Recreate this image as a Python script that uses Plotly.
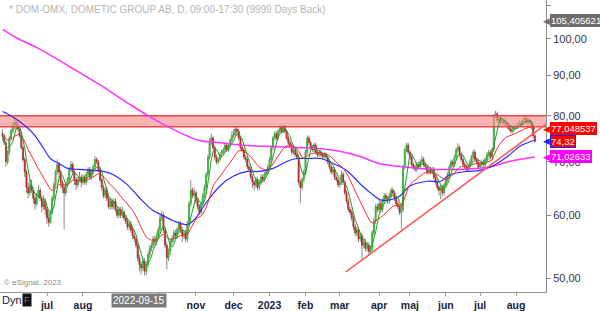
import numpy as np
import pandas as pd
import plotly.graph_objects as go

# ---------------- data ----------------
holidays = ["2022-05-26", "2022-06-06", "2022-06-24", "2022-12-26", "2023-01-06",
            "2023-04-07", "2023-04-10", "2023-05-01", "2023-05-18", "2023-06-06", "2023-06-23"]
bdays = pd.bdate_range("2022-05-23", "2023-08-16")
dates = [d.strftime("%Y-%m-%d") for d in bdays if d.strftime("%Y-%m-%d") not in holidays]

closes = [
    75.5, 74, 70, 72, 75, 76.5,
    77.5, 78.5, 78, 77, 75.5, 73, 70.5, 68, 65, 64, 65.5, 64.5, 63, 62, 63.5, 64.5, 63, 61.5, 62.5, 61,
    59.5, 58.8, 60.5, 63, 65.5, 68, 69.5, 68, 66, 65, 64, 65.5, 66.5, 68.5, 69.5, 68, 66.5, 65.5, 66.5, 67, 66,
    67, 66, 67.5, 68.5, 67, 68, 69, 70.5, 70, 68.5, 66.5, 65, 63.5, 64.5, 63, 61.5, 62.5, 61.5, 62.5, 61, 60, 61, 60,
    60.5, 59.5, 59, 58, 58.5, 57.5, 56.5, 56, 55, 53, 52, 51.5, 52.5, 51, 52, 53.5, 54.5, 55, 56, 55.5, 56.5, 57.5,
    59.5, 60, 57.5, 55, 53, 54, 55.5, 56, 57, 56.5, 57.5, 58.5, 57.5, 56.5, 57, 56, 58.5, 62, 64.5, 63.5, 64,
    62.5, 61.5, 60.5, 62, 63.5, 65, 67.5, 71, 74, 75, 73, 71, 70, 70.5, 71.5, 72, 72.5, 73.5, 72.5, 73.5, 74.5, 75.5,
    76, 77, 76.5, 75, 73, 72.5, 71, 70.5, 69, 68.5, 67, 66, 65.5, 66.5, 65, 66, 67, 66.5, 67.5, 68, 69,
    70.5, 73, 75, 76, 75, 76.5, 77.5, 76.5, 77.5, 76.5, 75, 74, 73.5, 72, 72.5, 71.5, 71, 66, 65, 66.5, 68,
    72, 75, 74, 73, 72.5, 73.5, 72, 71.5, 72, 71.5, 71, 71.5, 71, 70, 69, 68, 68.5, 67, 66.5, 65.5,
    66, 67.5, 66, 64, 62.5, 61, 60.5, 59.5, 58, 57, 57.5, 56, 56.5, 55, 55.5, 54.5, 55, 54, 54.5, 57, 59, 61.5, 61,
    62, 61, 62.5, 63.5, 63, 62.5, 63.5, 64.5, 64, 63, 62, 61.5, 60.5, 61, 69, 72.5, 73.5, 72,
    71, 69.5, 69, 68.5, 69.5, 69, 70, 70.5, 69.5, 69, 68, 68.5, 68, 68.5, 67, 66, 65, 64.5, 65, 64, 65.5,
    66.5, 67.5, 69, 70, 69.5, 71, 72.5, 73, 71.5, 70.5, 69.5, 69, 68.5, 69, 70, 71, 72, 70.5, 70, 69,
    69.5, 70, 69.5, 70.5, 71.5, 72, 71, 72.5, 80, 80.5, 79, 79.5, 78.5, 79, 78.5, 78, 77.5, 77, 76.5, 77, 77.5,
    77.5, 78, 78.5, 78, 79, 79.5, 78.5, 79, 78.5, 77.5, 75.5, 74.32,
]
highs = [
    77, 76, 74.5, 72.5, 75.5, 77,
    78.5, 79.5, 79, 78.5, 77.5, 76, 73.5, 71, 68.5, 66, 66.5, 66.5, 65, 63.5, 64, 65.5, 65, 63.5, 63.5, 63,
    61.5, 60.5, 61, 63.5, 66, 68.5, 70.5, 70, 68.5, 66.5, 65.5, 66, 67, 69, 70.2, 70, 68.5, 67, 67, 68, 67.5,
    67.5, 67.5, 68, 69, 69, 68.5, 69.5, 71.2, 71, 70.5, 69, 67, 65.5, 65, 65, 63.5, 63, 63, 63, 63, 61.5, 61.5, 61.5,
    61.5, 61, 60, 59.5, 59, 59, 58, 57, 56.5, 55.5, 53.5, 52.5, 53, 53, 52.5, 54, 55, 55.5, 56.5, 56.5, 57, 58,
    60, 60.8, 60.5, 58, 55.5, 54.5, 56, 56.5, 57.5, 57.5, 58, 59, 59, 58, 57.5, 57.5, 59, 62.5, 66.4, 65, 65,
    64.5, 63, 62, 62.5, 64, 65.5, 68, 71.5, 75, 76, 75.5, 73.5, 71.5, 71, 72, 72.5, 73, 74, 74, 74, 75, 76.5,
    77, 77.5, 77.5, 77, 75.5, 73.5, 73, 71.5, 71, 69.5, 69, 67.5, 66.5, 67, 67, 66.5, 67.5, 67.5, 68, 68.5, 69.5,
    71, 73.5, 75.5, 76.5, 76.5, 77, 78, 78, 78, 78, 77, 75.5, 74.5, 74, 73, 73, 72, 71.5, 66.5, 67, 68.5,
    72.5, 75.6, 75.5, 74.5, 73.5, 74, 74, 72.5, 72.5, 72.5, 72, 72, 72, 71.5, 70.5, 69.5, 69, 69, 67.5, 67,
    66.5, 68.2, 68, 66.5, 64.5, 63, 61.5, 61, 60, 58.5, 58, 58, 57, 57, 56, 56, 55.5, 55.5, 55, 57.5, 59.5, 62, 62,
    62.8, 62.5, 63, 64, 64, 63.5, 64, 65, 65, 64.5, 63.5, 62.5, 62, 61.5, 69.5, 73, 74, 74,
    72.5, 71.5, 70, 69.5, 70, 70, 70.5, 71.3, 71, 70, 69.5, 69, 69, 69, 69, 67.5, 66.5, 65.5, 65.5, 65.5, 66,
    67, 68, 69.5, 70.5, 70.5, 71.5, 73, 73.9, 73.5, 72, 71, 70, 69.5, 69.5, 70.5, 71.5, 72.5, 72.5, 71, 70.5,
    70, 70.5, 70.5, 71, 72, 72.5, 72.5, 73, 80.5, 81.2, 81, 80, 80, 79.5, 79.5, 79, 78.5, 78, 77.5, 77.5, 78,
    78, 78.5, 79, 79, 79.5, 80, 80, 79.5, 79.5, 79, 78, 76,
]
lows = [
    74.5, 73.5, 69, 69.5, 71.5, 74.5,
    76, 77, 77, 76.5, 75, 72.5, 70, 67, 64, 63, 63.5, 64, 62, 61, 61.5, 63, 62.5, 60.5, 61, 60,
    58.5, 58, 58.5, 60, 62.5, 65, 67.5, 67, 65, 64, 57.6, 63.5, 65, 66, 68, 67.5, 65.5, 64.5, 65, 66, 65,
    65.5, 65.5, 65.5, 67, 66.5, 66.5, 67.5, 68.5, 69.5, 68, 66, 64.5, 63, 63, 62.5, 61, 61, 61, 61, 60.5, 59.5, 59.5, 59.5,
    59.5, 59, 58.5, 57.5, 57.5, 57, 56, 55.5, 54.5, 52.5, 51, 50.5, 51, 50.4, 50.5, 51.5, 53, 54, 54.5, 55, 55, 56,
    57, 59, 57, 54.5, 51.3, 52.5, 53.5, 55, 55.5, 56, 56, 57, 57, 55.5, 56, 55.5, 55.5, 58, 61.5, 63, 63,
    62, 61, 60, 60, 61.5, 63, 64.5, 67, 70.5, 73.5, 72.5, 70.5, 69.5, 69.5, 70, 71, 71.5, 72, 72, 72, 73, 74,
    75, 75.5, 75.5, 74.5, 72.5, 72, 70.5, 70, 68.5, 68, 66.5, 65, 64.5, 65, 64.5, 64.5, 65.5, 66, 66, 67, 67.5,
    68.5, 70, 72.5, 74.5, 74.5, 74.5, 76, 76, 76, 76, 74.5, 73.5, 73, 71.5, 71.5, 71, 70.5, 65.5, 62.2, 64.5, 66,
    67.5, 71.5, 73.5, 72.5, 72, 72, 71.5, 71, 71, 71, 70.5, 70.5, 70.5, 69.5, 68.5, 67.5, 67.5, 66.5, 66, 65,
    65, 65.5, 65.5, 63.5, 62, 60.5, 60, 59, 57.5, 56.5, 56.5, 55.5, 55.5, 52.8, 54.5, 54, 54, 53.5, 53.5, 54, 56.5, 58.5, 60.5,
    60.5, 60.5, 60.5, 62, 62.5, 62, 62, 63, 63.5, 62.5, 61.5, 61, 60, 57.6, 60.5, 68.5, 72, 71.5,
    70.5, 69, 68.5, 68, 68, 68.5, 68.5, 69.5, 69, 68.5, 67.5, 67.5, 67.5, 67.5, 66.5, 65.5, 64.5, 63.5, 62.8, 63.5, 63.5,
    65, 66, 67, 68.5, 69, 69, 70.5, 72, 71, 70, 69, 68.5, 68, 68, 68.5, 69.5, 70.5, 70, 69.5, 68.5,
    68.5, 69, 69, 69, 70, 71, 70.5, 70.5, 72, 79.5, 78.5, 78.5, 78, 78, 78, 77.5, 77, 76.5, 76, 76, 76.5,
    77, 77, 77.5, 77.5, 77.5, 78.5, 78, 78, 78, 77, 75, 74,
]
first_open = 76.0

# moving averages that need history before the window
blue_idx = [0, 4, 10, 18, 24, 28, 34, 38, 45, 53, 59, 65, 73, 80, 88, 94, 100, 108, 112, 119, 127, 135,
            143, 150, 158, 166, 172, 178, 186, 193, 201, 209, 215, 221, 226, 232, 238, 248, 256, 261, 271,
            279, 287, 295, 302, 311]
blue_val = [81.0, 80.2, 78.7, 76.0, 72.8, 70.7, 69.5, 68.7, 68.5, 68.3, 68.1, 67.4, 65.5, 63.1, 60.8, 59.9,
            59.0, 58.4, 59.2, 62.2, 65.3, 67.2, 68.1, 68.1, 68.7, 70.1, 70.7, 70.7, 70.7, 69.7, 68.3, 65.7,
            64.0, 62.7, 62.7, 63.4, 65.3, 66.2, 66.2, 67.4, 68.1, 68.3, 69.3, 71.1, 73.2, 74.6]
mag_idx = [0, 9, 22, 39, 57, 74, 90, 109, 115, 127, 143, 158, 172, 185, 197, 209, 220, 232, 244, 255, 267,
           277, 286, 296, 311]
mag_val = [102.8, 100.1, 97.0, 92.3, 87.5, 82.8, 78.9, 75.3, 74.5, 74.0, 73.4, 73.2, 73.0, 72.8, 72.2, 71.1,
           69.7, 69.1, 68.7, 68.5, 68.5, 68.7, 69.1, 70.1, 71.03]

band_low, band_high = 77.5, 80.0
trend_dates = ["2023-03-06 14:00", "2023-08-24 12:00"]
trend_vals = [50.9, 78.1]

y_ticks = [50, 60, 70, 80, 90, 100, 110]
y_labels = ["50,00", "60,00", "70,00", "80,00", "90,00", "100,00", "110,00"]
month_ticks = ["2022-07-01", "2022-08-01", "2022-09-01", "2022-10-03", "2022-11-01", "2022-12-01",
               "2023-01-02", "2023-02-01", "2023-03-01", "2023-04-03", "2023-05-02", "2023-06-01",
               "2023-07-03", "2023-08-01"]
month_labels = ["jul", "aug", "", "", "nov", "dec", "2023", "feb", "mar", "apr", "maj", "jun", "jul", "aug"]

price_labels = [("105,405621", 105.405621, "#6e6e6e", None),
                ("77,048537", 77.048537, "#ff0000", None),
                ("74,32", 74.32, "#ff0000", "#2020ff"),
                ("71,02633", 71.02633, "#ff00ff", None)]

x_range = ["2022-05-19 13:00", "2023-08-24 12:00"]

# ---------------- derived ----------------
assert len(dates) == len(closes) == len(highs) == len(lows), (len(dates), len(closes), len(highs), len(lows))
opens = [first_open] + closes[:-1]
highs_c = [max(h, o, c) for h, o, c in zip(highs, opens, closes)]
lows_c = [min(l, o, c) for l, o, c in zip(lows, opens, closes)]
body_hi = [max(o, c) for o, c in zip(opens, closes)]
body_lo = [min(o, c) for o, c in zip(opens, closes)]
cs = pd.Series(closes)
green = cs.rolling(5, min_periods=1).mean()
red = cs.ewm(span=20, adjust=False).mean()

fig = go.Figure()

# resistance band
fig.add_trace(go.Scatter(x=x_range, y=[band_high, band_high], mode="lines",
                         line=dict(color="#f04848", width=1.5), hoverinfo="skip", showlegend=False))
fig.add_trace(go.Scatter(x=x_range, y=[band_low, band_low], mode="lines", fill="tonexty",
                         fillcolor="rgba(250,140,140,0.65)",
                         line=dict(color="#f04848", width=1.5), hoverinfo="skip", showlegend=False))

# magenta MA
fig.add_trace(go.Scatter(x=[dates[i] for i in mag_idx], y=mag_val, mode="lines",
                         line=dict(color="#ff33ff", width=1.5, shape="spline", smoothing=1),
                         hoverinfo="skip", showlegend=False))

# candles: grey wick + coloured body
grey = "#8a8a8a"
fig.add_trace(go.Candlestick(x=dates, open=opens, high=highs_c, low=lows_c, close=closes,
                             increasing=dict(line=dict(color=grey, width=1), fillcolor=grey),
                             decreasing=dict(line=dict(color=grey, width=1), fillcolor=grey),
                             whiskerwidth=0, hoverinfo="skip", showlegend=False))
fig.add_trace(go.Candlestick(x=dates, open=opens, high=body_hi, low=body_lo, close=closes,
                             increasing=dict(line=dict(color="#2cc52c", width=0.6), fillcolor="#2cc52c"),
                             decreasing=dict(line=dict(color="#cc2424", width=0.6), fillcolor="#cc2424"),
                             whiskerwidth=0, hoverinfo="skip", showlegend=False))

fig.add_trace(go.Scatter(x=[dates[i] for i in blue_idx], y=blue_val, mode="lines",
                         line=dict(color="#2b2bff", width=1.2, shape="spline", smoothing=1),
                         hoverinfo="skip", showlegend=False))
fig.add_trace(go.Scatter(x=dates, y=red, mode="lines", line=dict(color="#ff2a2a", width=1),
                         hoverinfo="skip", showlegend=False))
fig.add_trace(go.Scatter(x=dates, y=green, mode="lines", line=dict(color="#1f9f1f", width=1),
                         hoverinfo="skip", showlegend=False))

# trendline
fig.add_trace(go.Scatter(x=trend_dates, y=trend_vals, mode="lines",
                         line=dict(color="#ff5a5a", width=1.6), hoverinfo="skip", showlegend=False))

annotations = []
for txt, val, bg, border in price_labels:
    annotations.append(dict(xref="paper", x=1, xanchor="left", xshift=4, yref="y", y=float(np.log10(val)),
                            yanchor="middle", text=txt, showarrow=False, bgcolor=bg,
                            bordercolor=border if border else bg, borderwidth=1, borderpad=0,
                            font=dict(family="Liberation Sans, Arial", size=9.5, color="white")))
    annotations.append(dict(xref="paper", x=1, xanchor="right", xshift=6, yref="y", y=float(np.log10(val)),
                            yanchor="middle", text="◀", showarrow=False,
                            font=dict(family="DejaVu Sans", size=9, color=border if border else bg)))

annotations += [
    dict(xref="paper", yref="paper", x=0.012, y=0.993, xanchor="left", yanchor="top", showarrow=False,
         text="* DOM-OMX, DOMETIC GROUP AB, D, 09:00-17:30 (9999 Days Back)",
         font=dict(family="Liberation Sans, Arial", size=10, color="#b4b4b4")),
    dict(xref="paper", yref="paper", x=0.004, y=0.034, xanchor="left", yanchor="middle", showarrow=False,
         text="© eSignal, 2023", font=dict(family="Liberation Sans, Arial", size=8, color="#8a8a8a")),
    dict(xref="paper", yref="paper", x=0.0, y=-0.028, xanchor="left", yanchor="middle", showarrow=False,
         text="Dyn", font=dict(family="Liberation Sans, Arial", size=11, color="#1c1c3c")),
    dict(xref="paper", yref="paper", x=0.040, y=-0.028, xanchor="left", yanchor="middle", showarrow=False,
         text="F", bgcolor="#111111", borderpad=1,
         font=dict(family="Liberation Sans, Arial", size=9, color="#777777")),
    dict(xref="x", yref="paper", x="2022-09-15", y=-0.028, xanchor="center", yanchor="middle", showarrow=False,
         text="2022-09-15", bgcolor="#7c7c7c", borderpad=1,
         font=dict(family="Liberation Sans, Arial", size=10, color="white")),
]

fig.update_layout(
    width=600, height=311, margin=dict(l=0, r=54, t=0, b=16),
    paper_bgcolor="white", plot_bgcolor="white", showlegend=False,
    annotations=annotations,
    xaxis=dict(type="date", range=x_range,
               rangebreaks=[dict(bounds=["sat", "mon"]), dict(values=holidays)],
               tickvals=month_ticks, ticktext=["<b>%s</b>" % t if t else "" for t in month_labels],
               tickangle=0,
               showgrid=False, zeroline=False, showline=True, linecolor="#9a9a9a", linewidth=1,
               ticks="outside", ticklen=3, tickcolor="#9a9a9a",
               tickfont=dict(family="Liberation Sans, Arial", size=10.5, color="#1c1c3c"),
               rangeslider=dict(visible=False), fixedrange=True),
    yaxis=dict(type="log", side="right", range=[1.68149, 2.04886],
               tickvals=y_ticks, ticktext=y_labels, showgrid=False, zeroline=False,
               showline=True, linecolor="#8a8a8a", linewidth=1,
               ticks="outside", ticklen=4, tickcolor="#8a8a8a",
               tickfont=dict(family="Liberation Sans, Arial", size=11, color="#33334a")),
)

fig.write_html("out.html")
